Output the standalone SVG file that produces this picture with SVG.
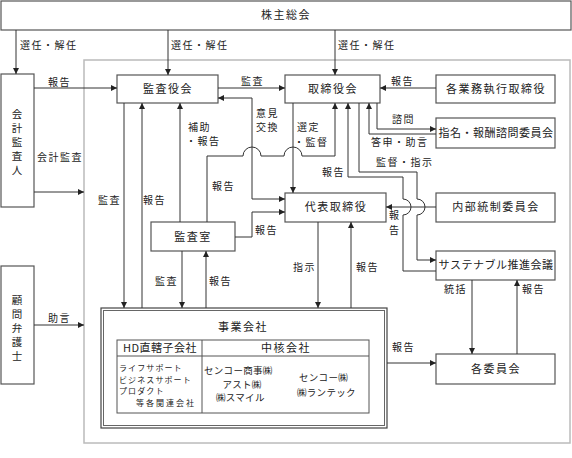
<svg xmlns="http://www.w3.org/2000/svg" width="572" height="458" viewBox="0 0 572 458">
<defs>
<marker id="ah" markerWidth="6" markerHeight="6" refX="6" refY="3" orient="auto" markerUnits="userSpaceOnUse"><path d="M0,0 L6,3 L0,6 z" fill="#222"/></marker>
<style>
.box{fill:#fff;stroke:#555;stroke-width:1.2}
.ln{fill:none;stroke:#333;stroke-width:1}
.ar{fill:none;stroke:#333;stroke-width:1;marker-end:url(#ah)}
text{font-family:"Noto Sans CJK JP","Noto Sans CJK SC",sans-serif;fill:#222}
.t{font-size:11px;letter-spacing:1.5px;text-anchor:middle}
.v{font-size:10.5px;text-anchor:middle}
.l{font-size:10px;letter-spacing:1.5px}
.s{font-size:8px;letter-spacing:1.1px}
.m{font-size:9.5px;letter-spacing:0.3px}
</style>
</defs>
<rect width="572" height="458" fill="#fff"/>
<rect x="84" y="60" width="486" height="383" fill="none" stroke="#bbb" stroke-width="1.5"/>

<g id="kabunushi"><rect class="box" x="1" y="1" width="570" height="29"/><text class="t" x="286" y="19">株主総会</text></g>
<g id="kaikei"><rect class="box" x="1" y="74" width="33" height="133"/>
<text class="v" x="17" y="118">会</text><text class="v" x="17" y="132">計</text><text class="v" x="17" y="146">監</text><text class="v" x="17" y="160">査</text><text class="v" x="17" y="174">人</text></g>
<g id="komon"><rect class="box" x="1" y="266" width="33" height="118"/>
<text class="v" x="17" y="304">顧</text><text class="v" x="17" y="318">問</text><text class="v" x="17" y="332">弁</text><text class="v" x="17" y="346">護</text><text class="v" x="17" y="360">士</text></g>
<g id="kansayakukai"><rect class="box" x="117" y="75" width="101" height="28"/><text class="t" x="168" y="93">監査役会</text></g>
<g id="torishimariyakukai"><rect class="box" x="285" y="75" width="95" height="28"/><text class="t" x="333" y="93">取締役会</text></g>
<g id="gyomu"><rect class="box" x="436" y="75" width="119" height="28"/><text class="t" x="496" y="93">各業務執行取締役</text></g>
<g id="shimei"><rect class="box" x="436" y="118" width="119" height="30"/><text class="t" x="496" y="137" style="letter-spacing:0.5px">指名・報酬諮問委員会</text></g>
<g id="daihyo"><rect class="box" x="285" y="193" width="101" height="29"/><text class="t" x="336" y="211">代表取締役</text></g>
<g id="naibu"><rect class="box" x="436" y="193" width="119" height="29"/><text class="t" x="496" y="211">内部統制委員会</text></g>
<g id="kansashitsu"><rect class="box" x="151" y="222" width="84" height="29"/><text class="t" x="193" y="241">監査室</text></g>
<g id="sustainable"><rect class="box" x="436" y="251" width="119" height="29"/><text class="t" x="496" y="269" style="letter-spacing:0.5px">サステナブル推進会議</text></g>
<g id="kakuiinkai"><rect class="box" x="436" y="354" width="119" height="30"/><text class="t" x="496" y="373">各委員会</text></g>
<g id="jigyo">
<rect x="101" y="308" width="286" height="120" fill="#fff" stroke="#444" stroke-width="1.2"/>
<rect x="103.5" y="310.5" width="281" height="115" fill="none" stroke="#666" stroke-width="1"/>
<text class="t" x="243" y="331">事業会社</text>
<rect x="117" y="340" width="252" height="73" fill="none" stroke="#555" stroke-width="1"/>
<line x1="117" y1="356" x2="369" y2="356" stroke="#555"/>
<line x1="202" y1="340" x2="202" y2="413" stroke="#555"/>
<text class="t" x="160" y="352" style="letter-spacing:0.5px">HD直轄子会社</text>
<text class="t" x="286" y="352">中核会社</text>
<text class="s" x="119" y="371">ライフサポート</text>
<text class="s" x="119" y="382.5">ビジネスサポート</text>
<text class="s" x="119" y="394">プロダクト</text>
<text class="s" x="196" y="405.5" text-anchor="end" style="letter-spacing:2px">等各関連会社</text>
<text class="m" x="204" y="374">センコー商事㈱</text>
<text class="m" x="242" y="387.5" text-anchor="middle">アスト㈱</text>
<text class="m" x="216" y="401">㈱スマイル</text>
<text class="m" x="299" y="381">センコー㈱</text>
<text class="m" x="297" y="395.5">㈱ランテック</text>
</g>

<g id="connectors">
<path class="ar" d="M16,30 V74"/>
<path class="ar" d="M168,30 V75"/>
<path class="ar" d="M335,30 V75"/>
<path class="ar" d="M34,88 H117"/>
<path class="ar" d="M34,192 H84"/>
<path class="ar" d="M34,325 H84"/>
<path class="ar" d="M218,88 H285"/>
<path class="ar" d="M436,88 H380"/>
<path class="ar" d="M377,103 V129 H436"/>
<path class="ar" d="M436,134 H369 V103"/>
<path class="ar" d="M252,199 V98 H218"/>
<path class="ar" d="M252,199 H285"/>
<path class="ar" d="M293,103 V193"/>
<path class="ar" d="M207,222 V156 H243 A9,9 0 0 1 261,156 H284 A9,9 0 0 1 302,156 H335 V103"/>
<path class="ar" d="M180,222 V103"/>
<path class="ar" d="M235,237 H252 V212 H285"/>
<path class="ar" d="M436,271 H403 V215 A8,8 0 0 0 403,199 V177 H348 V103"/>
<path class="ar" d="M359,103 V172 H417 V199 A8,8 0 0 1 417,215 V260 H436"/>
<path class="ar" d="M436,207 H386"/>
<path class="ar" d="M124,103 V308"/>
<path class="ar" d="M142,308 V103"/>
<path class="ar" d="M182,251 V308"/>
<path class="ar" d="M206,308 V251"/>
<path class="ar" d="M318,222 V308"/>
<path class="ar" d="M351,308 V222"/>
<path class="ar" d="M472,280 V354"/>
<path class="ar" d="M517,354 V280"/>
<path class="ar" d="M387,363 H436"/>
</g>

<g id="labels">
<text class="l" x="20" y="49">選任・解任</text>
<text class="l" x="171" y="49">選任・解任</text>
<text class="l" x="338" y="49">選任・解任</text>
<text class="l" x="48" y="86">報告</text>
<text class="l" x="37" y="161">会計監査</text>
<text class="l" x="48" y="322">助言</text>
<text class="l" x="241" y="85">監査</text>
<text class="l" x="391" y="85">報告</text>
<text class="l" x="392" y="123">諮問</text>
<text class="l" x="371" y="146">答申・助言</text>
<text class="l" x="256" y="117">意見</text>
<text class="l" x="256" y="131">交換</text>
<text class="l" x="297" y="131">選定</text>
<text class="l" x="294" y="146">・監督</text>
<text class="l" x="188" y="131">補助</text>
<text class="l" x="186" y="145">・報告</text>
<text class="l" x="212" y="190">報告</text>
<text class="l" x="322" y="176">報告</text>
<text class="l" x="376" y="166">監督・指示</text>
<text class="l" x="98" y="204">監査</text>
<text class="l" x="143" y="204">報告</text>
<text class="l" x="255" y="234">報告</text>
<text class="l" x="389" y="219">報</text>
<text class="l" x="389" y="234">告</text>
<text class="l" x="155" y="285">監査</text>
<text class="l" x="209" y="285">報告</text>
<text class="l" x="293" y="271">指示</text>
<text class="l" x="356" y="271">報告</text>
<text class="l" x="444" y="293">統括</text>
<text class="l" x="522" y="293">報告</text>
<text class="l" x="392" y="351">報告</text>
</g>
</svg>
